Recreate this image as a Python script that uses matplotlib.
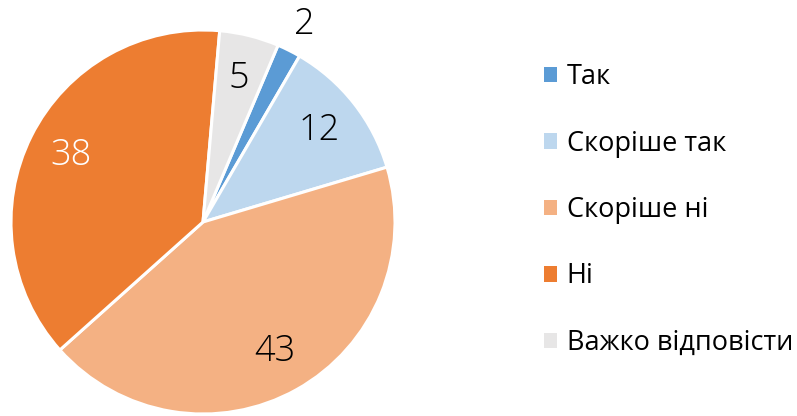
import matplotlib
matplotlib.use("Agg")
import matplotlib.pyplot as plt

categories = ["Так", "Скоріше так", "Скоріше ні", "Ні", "Важко відповісти"]
values = [2, 12, 43, 38, 5]
colors = ["#5b9bd5", "#bdd7ee", "#f4b183", "#ed7d31", "#e7e6e6"]
label_colors = ["#000000", "#000000", "#000000", "#ffffff", "#000000"]

plt.rcParams['font.family'] = ['Open Sans', 'DejaVu Sans']

fig = plt.figure(figsize=(7.97, 4.16), dpi=100)
cx, cy, r = 203, 416 - 222, 192
ax = fig.add_axes([(cx - r) / 797, (cy - r) / 416, 2 * r / 797, 2 * r / 416])

wedges, texts, autotexts = ax.pie(
    values, colors=colors, startangle=67, counterclock=False,
    autopct=lambda p: f"{round(p)}", pctdistance=0.77,
    wedgeprops=dict(edgecolor="white", linewidth=2.2),
    textprops=dict(fontsize=26, fontweight="light"),
)
for t, c in zip(autotexts, label_colors):
    t.set_color(c)
autotexts[0].set_position((0.53, 1.03))
ax.set_xlim(-1, 1)
ax.set_ylim(-1, 1)
ax.set_aspect("equal")

leg = fig.legend(wedges, categories, loc="center left",
                 bbox_to_anchor=(530 / 797, (416 - 210) / 416),
                 frameon=False, fontsize=19.5, handlelength=0.5, handleheight=0.5,
                 handletextpad=0.35, labelspacing=1.42, borderpad=0)
for h in leg.legend_handles:
    h.set_edgecolor("none")

fig.savefig("out.png", dpi=100)
